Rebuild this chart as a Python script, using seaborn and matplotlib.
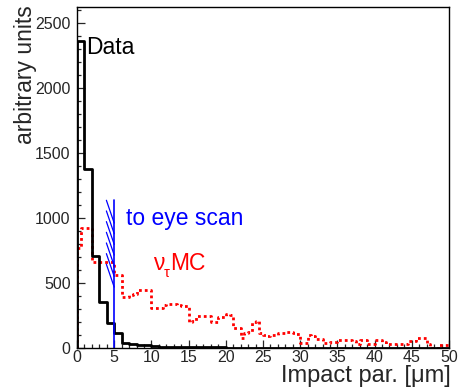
import numpy as np
import pandas as pd
import matplotlib
matplotlib.use("Agg")
import matplotlib.pyplot as plt
from matplotlib.ticker import MultipleLocator
import seaborn as sns

# Measured impact parameter distribution (1 um bins)
data_edges = [float(e) for e in range(0, 51)]
data_counts = [2360, 1375, 705, 355, 195, 112, 36, 30, 23, 20,
               12, 10, 8, 7, 6, 5, 5, 4, 4, 4,
               3, 3, 3, 3, 2, 2, 2, 2, 2, 2,
               1, 1, 1, 1, 1, 1, 1, 1, 1, 1,
               0, 1, 0, 1, 0, 0, 1, 0, 0, 0]

# nu_tau Monte Carlo prediction (0.5 um bins)
mc_edges = [0.5 * e for e in range(0, 101)]
mc_counts = [770, 920, 920, 920, 664, 664, 664, 664, 664, 664,
             560, 560, 395, 395, 410, 415, 445, 445, 445, 445,
             308, 308, 308, 330, 335, 338, 335, 330, 325, 320,
             200, 205, 246, 246, 246, 246, 200, 200, 235, 240,
             258, 255, 156, 156, 75, 118, 120, 200, 205, 115,
             100, 95, 100, 100, 113, 113, 120, 122, 118, 110,
             40, 40, 100, 95, 67, 67, 36, 36, 44, 44,
             62, 62, 65, 65, 55, 30, 60, 60, 30, 30,
             60, 60, 45, 30, 30, 30, 30, 30, 30, 56,
             56, 75, 75, 75, 30, 0, 0, 25, 25, 25]

# Eye-scan cut
cut_x = 5.0
cut_top = 1135
hatch_starts = [1135, 1053, 971, 889, 807, 725, 643]
hatch_dx = 1.05
hatch_dy = 175

sns.set_style("ticks")
plt.rcParams["font.family"] = ["Liberation Sans", "DejaVu Sans"]

fig = plt.figure(figsize=(4.62, 3.92), dpi=100)
ax = fig.add_axes([77 / 462, 1 - 348 / 392, 372 / 462, 341 / 392])

de = np.asarray(data_edges)
me = np.asarray(mc_edges)
data_df = pd.DataFrame({"ip": 0.5 * (de[:-1] + de[1:]),
                        "n": np.asarray(data_counts, dtype=float)})
mc_df = pd.DataFrame({"ip": 0.5 * (me[:-1] + me[1:]),
                      "n": np.asarray(mc_counts, dtype=float)})

mc_style = dict(color="red", linewidth=2.0, linestyle=(0, (1, 1.1)))
sns.histplot(data=mc_df, x="ip", weights="n", bins=mc_edges, element="step",
             fill=False, ax=ax, **mc_style)
ax.vlines(mc_edges[0], 0, mc_counts[0], **mc_style)

sns.histplot(data=data_df, x="ip", weights="n", bins=data_edges, element="step",
             fill=False, ax=ax, color="black", linewidth=2.0)
ax.vlines(data_edges[0], 0, data_counts[0], color="black", linewidth=2.0)

# cut line with hatching on the accepted side
ax.plot([cut_x, cut_x], [0, cut_top], color="blue", linewidth=1.2)
for y0 in hatch_starts:
    ax.plot([cut_x - hatch_dx, cut_x], [y0, y0 - hatch_dy], color="blue", linewidth=0.9)

ax.set_xlim(0, 50)
ax.set_ylim(0, 2620)

ax.xaxis.set_major_locator(MultipleLocator(5))
ax.xaxis.set_minor_locator(MultipleLocator(1))
ax.yaxis.set_major_locator(MultipleLocator(500))
ax.yaxis.set_minor_locator(MultipleLocator(100))
ax.tick_params(which="both", direction="in", top=False, right=False, labelsize=11.5)
ax.tick_params(axis="x", which="major", length=5.5, width=0.9, pad=1.5)
ax.tick_params(axis="x", which="minor", length=2.6, width=0.9)
ax.tick_params(axis="y", which="major", length=5.5, width=0.9, pad=4.5)
ax.tick_params(axis="y", which="minor", length=2.6, width=0.9)
for s in ax.spines.values():
    s.set_linewidth(1.0)
    s.set_color("black")

ax.set_xlabel("Impact par. [\u03bcm]", fontsize=17, loc="right")
ax.xaxis.set_label_coords(1.005, -0.05)
ax.set_ylabel("arbitrary units", fontsize=16.5, loc="top")
ax.yaxis.set_label_coords(-0.108, 1.006)

ax.text(1.25, 2262, "Data", fontsize=16.5, color="black", va="baseline")
ax.text(6.6, 946, "to eye scan", fontsize=16.5, color="blue", va="baseline")

# nu_tau MC label: nu, lowered small tau, then MC
mc_lbl = (10.2, 596)
ax.annotate("\u03bd", xy=mc_lbl, xytext=(0, 0), textcoords="offset pixels",
            fontsize=16.5, color="red", va="baseline", ha="left")
ax.annotate("\u03c4", xy=mc_lbl, xytext=(11, -7), textcoords="offset pixels",
            fontsize=10.5, color="red", va="baseline", ha="left")
ax.annotate("MC", xy=mc_lbl, xytext=(17.5, 0), textcoords="offset pixels",
            fontsize=16.5, color="red", va="baseline", ha="left")

fig.savefig("out.png", dpi=100)
